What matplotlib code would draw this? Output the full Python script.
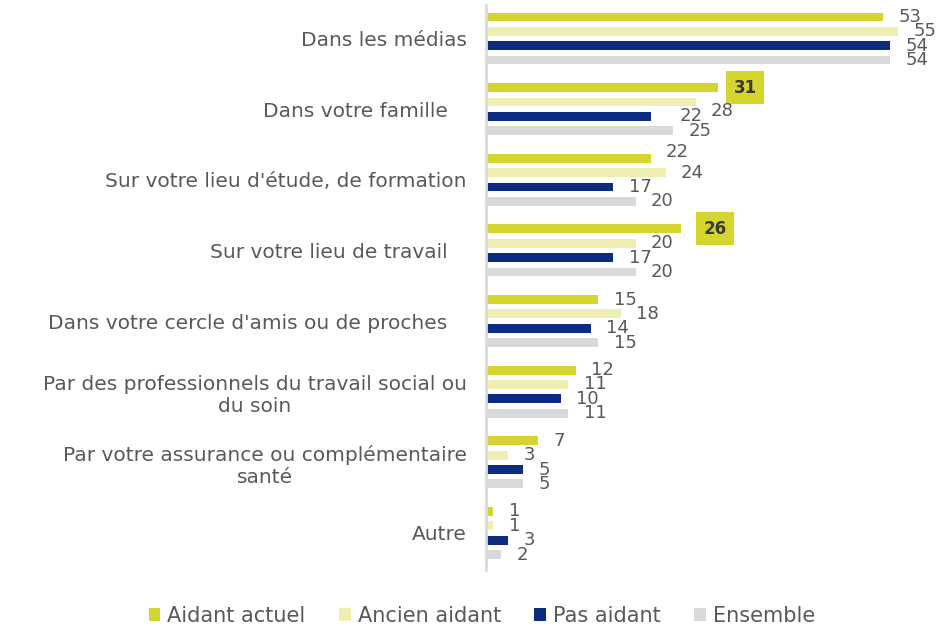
import matplotlib
matplotlib.use("Agg")
import matplotlib.pyplot as plt
from matplotlib.patches import Patch
import numpy as np

categories = [
    "Dans les médias",
    "Dans votre famille   ",
    "Sur votre lieu d'étude, de formation",
    "Sur votre lieu de travail   ",
    "Dans votre cercle d'amis ou de proches   ",
    "Par des professionnels du travail social ou\ndu soin",
    "Par votre assurance ou complémentaire\nsanté",
    "Autre",
]
series_names = ["Aidant actuel", "Ancien aidant", "Pas aidant", "Ensemble"]
aidant_actuel = [53, 31, 22, 26, 15, 12, 7, 1]
ancien_aidant = [55, 28, 24, 20, 18, 11, 3, 1]
pas_aidant = [54, 22, 17, 17, 14, 10, 5, 3]
ensemble = [54, 25, 20, 20, 15, 11, 5, 2]
series = [aidant_actuel, ancien_aidant, pas_aidant, ensemble]
colors = ["#D4D52E", "#EEEEB0", "#0B2C80", "#D9D9D9"]
# (series, category) shown in a box -> horizontal offset of box centre (pt)
highlight = {(0, 1): 19.5, (0, 3): 24.5}
# small manual label nudges in pixels (series, category) -> (dx, dy)
nudges = {(1, 1): (0, -9), (2, 1): (14, 0), (0, 2): (0, 6)}

text_col = "#595959"
plt.rcParams["font.family"] = ["DejaVu Sans"]

fig = plt.figure(figsize=(9.53, 6.26), dpi=100)
ax = fig.add_axes([486 / 953, 1 - 570 / 626, 62 * 7.49 / 953, 565 / 626])

y = np.arange(len(categories))
offsets = [-0.305, -0.102, 0.102, 0.305]
h = 0.125
for si, (vals, col, off) in enumerate(zip(series, colors, offsets)):
    ax.barh(y + off, vals, height=h, color=col, edgecolor="none")
    for ci, v in enumerate(vals):
        if (si, ci) in highlight:
            ax.annotate(str(v), (v, y[ci] + off), xytext=(highlight[(si, ci)], 0),
                        textcoords="offset points", ha="center", va="center",
                        fontsize=12, fontweight="bold", color="#3A3A3A",
                        bbox=dict(boxstyle="square,pad=0.45", fc=colors[0], ec="none"))
        else:
            dx, dy = nudges.get((si, ci), (0, 0))
            ax.annotate(str(v), (v, y[ci] + off), xytext=(11 + dx * 0.72, dy * 0.72),
                        textcoords="offset points", ha="left", va="center",
                        fontsize=13, color=text_col)

ax.set_xlim(0, 62)
ax.set_ylim(7.524, -0.474)
ax.set_yticks(y)
ax.set_yticklabels(categories, fontsize=14.5, color=text_col, multialignment="center")
ax.tick_params(axis="y", length=0, pad=14)
ax.set_xticks([])
for s in ["top", "right", "bottom"]:
    ax.spines[s].set_visible(False)
ax.spines["left"].set_color("#D9D9D9")
ax.spines["left"].set_linewidth(2)

handles = [Patch(facecolor=c, edgecolor="none") for c in colors]
fig.legend(handles, series_names, loc="center", bbox_to_anchor=(482 / 953, 1 - 616 / 626),
           ncol=4, frameon=False, fontsize=15, labelcolor=text_col,
           handlelength=0.55, handleheight=0.55, handletextpad=0.35, columnspacing=1.6)

fig.savefig("out.png", dpi=100)
